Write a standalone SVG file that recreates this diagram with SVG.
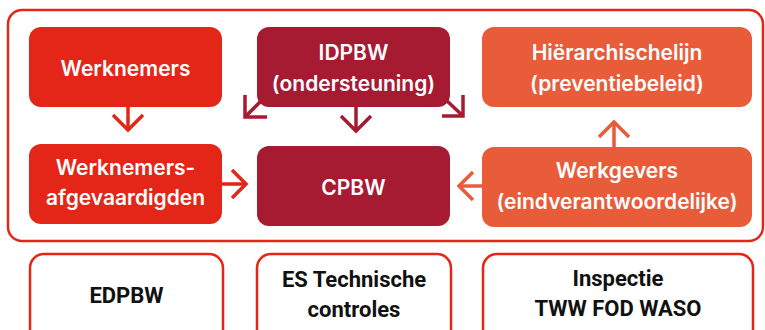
<svg xmlns="http://www.w3.org/2000/svg" width="765" height="330" viewBox="0 0 765 330">
<defs>
<style>
.frame{fill:#fff;stroke:#E32618;stroke-width:2.5}
.red{fill:#E32618}
.maroon{fill:#A61A32}
.orange{fill:#E95C3A}
.wt{fill:#fff;font-family:Inter,"Noto Sans",sans-serif;font-weight:600;font-size:21px;text-anchor:middle}
.bt{fill:#111;font-family:Roboto,"Liberation Sans",sans-serif;font-weight:700;font-size:22px;text-anchor:middle}
.ob{fill:#fff;stroke:#E32618;stroke-width:2.5}
.ar{fill:none;stroke-width:3.5;stroke-linecap:butt;stroke-linejoin:miter}
</style>
</defs>
<rect width="765" height="330" fill="#fff"/>
<rect class="frame" x="8" y="10" width="755" height="231" rx="14"/>
<g id="werknemers">
<rect class="red" x="29" y="27" width="193" height="80" rx="12"/>
<text class="wt" x="125.5" y="76">Werknemers</text>
</g>
<g id="afgevaardigden">
<rect class="red" x="29" y="144" width="193" height="80" rx="12"/>
<text class="wt" x="125.5" y="175">Werknemers-</text>
<text class="wt" x="125.5" y="205">afgevaardigden</text>
</g>
<g id="idpbw">
<rect class="maroon" x="257" y="27" width="193" height="80" rx="12"/>
<text class="wt" x="353.5" y="60">IDPBW</text>
<text class="wt" x="353.5" y="91">(ondersteuning)</text>
</g>
<g id="cpbw">
<rect class="maroon" x="257" y="146" width="193" height="80" rx="12"/>
<text class="wt" x="353.5" y="195">CPBW</text>
</g>
<g id="hierarchische">
<rect class="orange" x="482" y="27" width="270" height="80" rx="12"/>
<text class="wt" x="617" y="60">Hiërarchischelijn</text>
<text class="wt" x="617" y="91">(preventiebeleid)</text>
</g>
<g id="werkgevers">
<rect class="orange" x="482" y="147" width="270" height="80" rx="12"/>
<text class="wt" x="617" y="178">Werkgevers</text>
<text class="wt" x="617" y="209">(eindverantwoordelijke)</text>
</g>
<g id="edpbw">
<rect class="ob" x="30" y="254" width="193" height="90" rx="14"/>
<text class="bt" x="126.5" y="303">EDPBW</text>
</g>
<g id="es">
<rect class="ob" x="257" y="254" width="194" height="90" rx="14"/>
<text class="bt" x="354" y="287">ES Technische</text>
<text class="bt" x="354" y="317">controles</text>
</g>
<g id="inspectie">
<rect class="ob" x="483" y="254" width="270" height="90" rx="14"/>
<text class="bt" x="618" y="286">Inspectie</text>
<text class="bt" x="618" y="316">TWW FOD WASO</text>
</g>
<g id="connectors">
<g stroke="#E32618" class="ar">
<path d="M128 107V129"/><path d="M113 115L128 130L143 115"/>
<path d="M222 184H245"/><path d="M232 170L246 184L232 198"/>
</g>
<g stroke="#A61A32" class="ar">
<path d="M262 100L246 116"/><path d="M245 95V117H267"/>
<path d="M356 107V129"/><path d="M341 116L356 131L371 116"/>
<path d="M446 100L462 115"/><path d="M463 95V116H442"/>
</g>
<g stroke="#E95C3A" class="ar">
<path d="M482 186H460"/><path d="M473 172L459 186L473 200"/>
<path d="M614 147V124"/><path d="M599 137L614 122L629 137"/>
</g>
</g>
</svg>
